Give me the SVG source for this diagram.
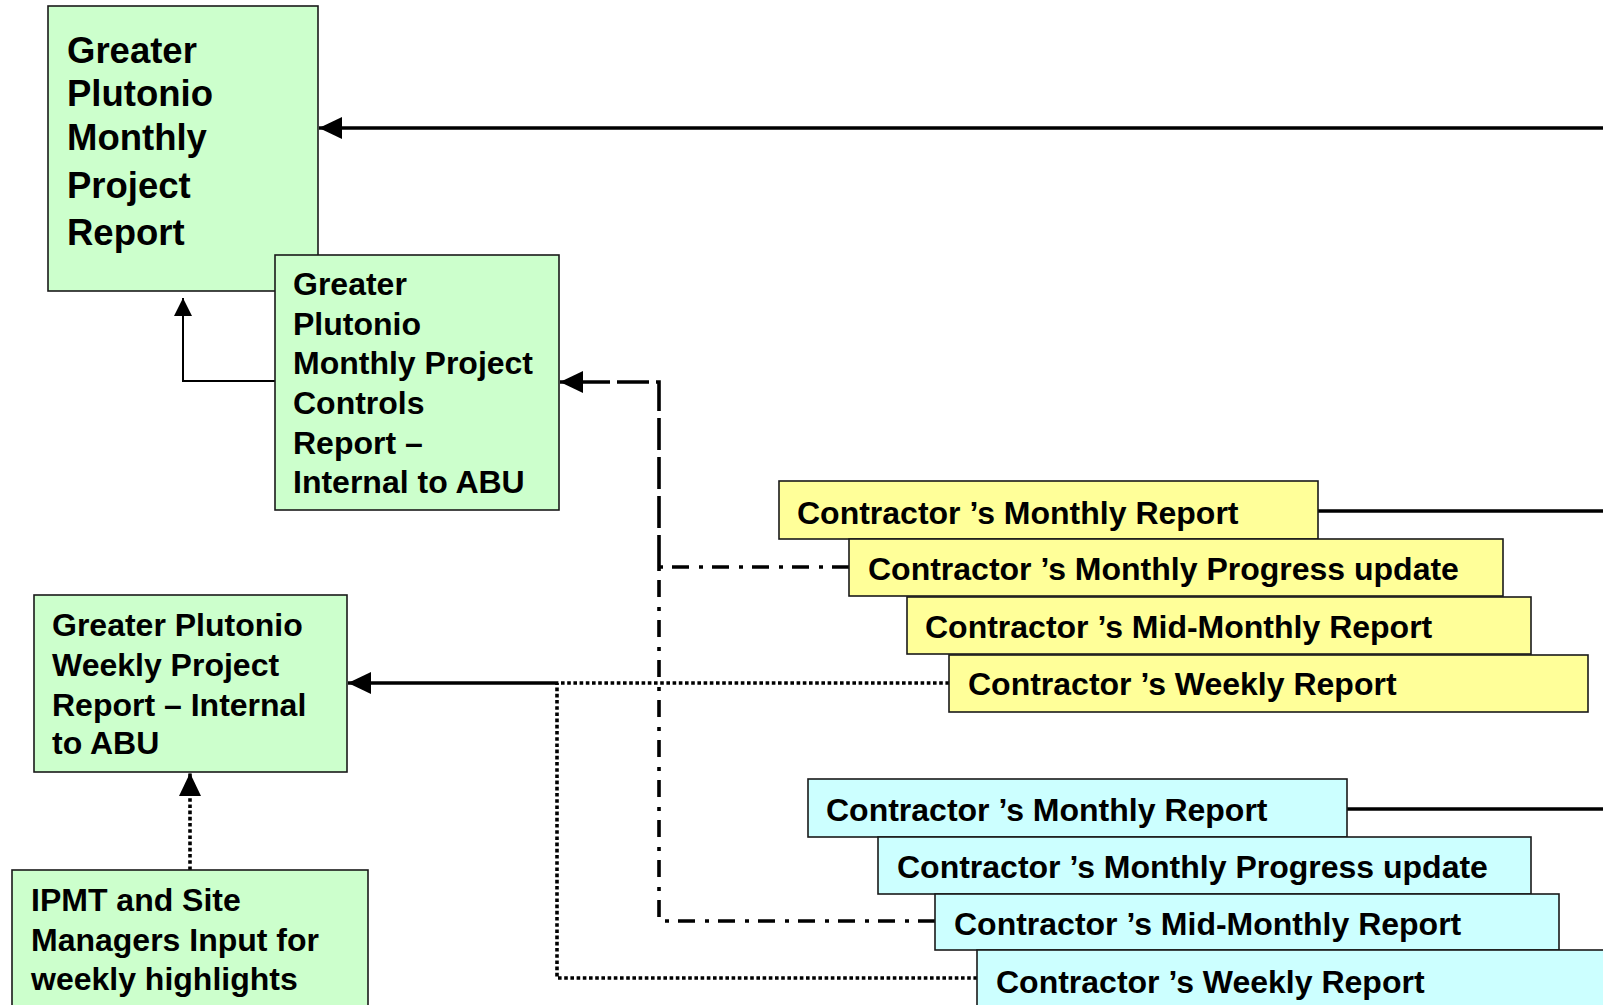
<svg xmlns="http://www.w3.org/2000/svg" width="1603" height="1005" viewBox="0 0 1603 1005">
<defs>
<style>
.box{stroke:#1a1a1a;stroke-width:1.6}
.g{fill:#CCFFCC}.y{fill:#FFFF99}.c{fill:#CCFFFF}
text{font-family:"Liberation Sans",Arial,sans-serif;font-weight:bold;fill:#000}
.t36{font-size:36.5px}.t32{font-size:32px}
.ln{fill:none;stroke:#000;stroke-width:3.6}
.thin{fill:none;stroke:#000;stroke-width:2}
.dash{stroke-dasharray:32 7}
.dd{stroke-dasharray:17 9 4 10}
.dot{stroke-dasharray:3.6 2.6}
</style>
<marker id="ah" markerUnits="userSpaceOnUse" markerWidth="24" markerHeight="22" refX="23" refY="11" orient="auto">
<path d="M0,0 L23,11 L0,22 z" fill="#000"/>
</marker>
<marker id="ahs" markerUnits="userSpaceOnUse" markerWidth="19" markerHeight="18" refX="18" refY="9" orient="auto">
<path d="M0,0 L18,9 L0,18 z" fill="#000"/>
</marker>
</defs>

<g id="connectors">
<path class="ln" d="M1603,128 L319,128" marker-end="url(#ah)"/>
<path class="thin" d="M275,381 L183,381 L183,298" marker-end="url(#ahs)"/>
<path class="ln dash" d="M659,567 L659,382 L560,382" marker-end="url(#ah)"/>
<path class="ln dd" d="M849,567 L659,567"/>
<path class="ln dd" d="M935,921 L659,921 L659,567"/>
<path class="ln" d="M1318,511 L1603,511"/>
<path class="ln" d="M1347,809 L1603,809"/>
<path class="ln dot" d="M949,683 L557,683"/>
<path class="ln dot" d="M977,978 L557,978 L557,683"/>
<path class="ln" d="M557,683 L348,683" marker-end="url(#ah)"/>
<path class="ln dot" d="M190,870 L190,773" marker-end="url(#ah)"/>
</g>

<g id="gp-monthly">
<rect class="box g" x="48" y="6" width="270" height="285"/>
<text class="t36" x="67" y="63">Greater</text>
<text class="t36" x="67" y="106">Plutonio</text>
<text class="t36" x="67" y="150">Monthly</text>
<text class="t36" x="67" y="198">Project</text>
<text class="t36" x="67" y="245">Report</text>
</g>

<g id="gp-controls">
<rect class="box g" x="275" y="255" width="284" height="255"/>
<text class="t32" x="293" y="295">Greater</text>
<text class="t32" x="293" y="335">Plutonio</text>
<text class="t32" x="293" y="374">Monthly Project</text>
<text class="t32" x="293" y="414">Controls</text>
<text class="t32" x="293" y="454">Report –</text>
<text class="t32" x="293" y="493">Internal to ABU</text>
</g>

<g id="gp-weekly">
<rect class="box g" x="34" y="595" width="313" height="177"/>
<text class="t32" x="52" y="636">Greater Plutonio</text>
<text class="t32" x="52" y="676">Weekly Project</text>
<text class="t32" x="52" y="716">Report – Internal</text>
<text class="t32" x="52" y="754">to ABU</text>
</g>

<g id="ipmt">
<rect class="box g" x="12" y="870" width="356" height="150"/>
<text class="t32" x="31" y="911">IPMT and Site</text>
<text class="t32" x="31" y="951">Managers Input for</text>
<text class="t32" x="31" y="990">weekly highlights</text>
</g>

<g id="y-monthly">
<rect class="box y" x="779" y="481" width="539" height="58"/>
<text class="t32" x="797" y="524">Contractor ’s Monthly Report</text>
</g>
<g id="y-progress">
<rect class="box y" x="849" y="539" width="654" height="57"/>
<text class="t32" x="868" y="580">Contractor ’s Monthly Progress update</text>
</g>
<g id="y-midmonthly">
<rect class="box y" x="907" y="597" width="624" height="57"/>
<text class="t32" x="925" y="638">Contractor ’s Mid-Monthly Report</text>
</g>
<g id="y-weekly">
<rect class="box y" x="949" y="655" width="639" height="57"/>
<text class="t32" x="968" y="695">Contractor ’s Weekly Report</text>
</g>

<g id="c-monthly">
<rect class="box c" x="808" y="779" width="539" height="58"/>
<text class="t32" x="826" y="821">Contractor ’s Monthly Report</text>
</g>
<g id="c-progress">
<rect class="box c" x="878" y="837" width="653" height="57"/>
<text class="t32" x="897" y="878">Contractor ’s Monthly Progress update</text>
</g>
<g id="c-midmonthly">
<rect class="box c" x="935" y="894" width="624" height="56"/>
<text class="t32" x="954" y="935">Contractor ’s Mid-Monthly Report</text>
</g>
<g id="c-weekly">
<rect class="box c" x="977" y="950" width="660" height="80"/>
<text class="t32" x="996" y="993">Contractor ’s Weekly Report</text>
</g>
</svg>
